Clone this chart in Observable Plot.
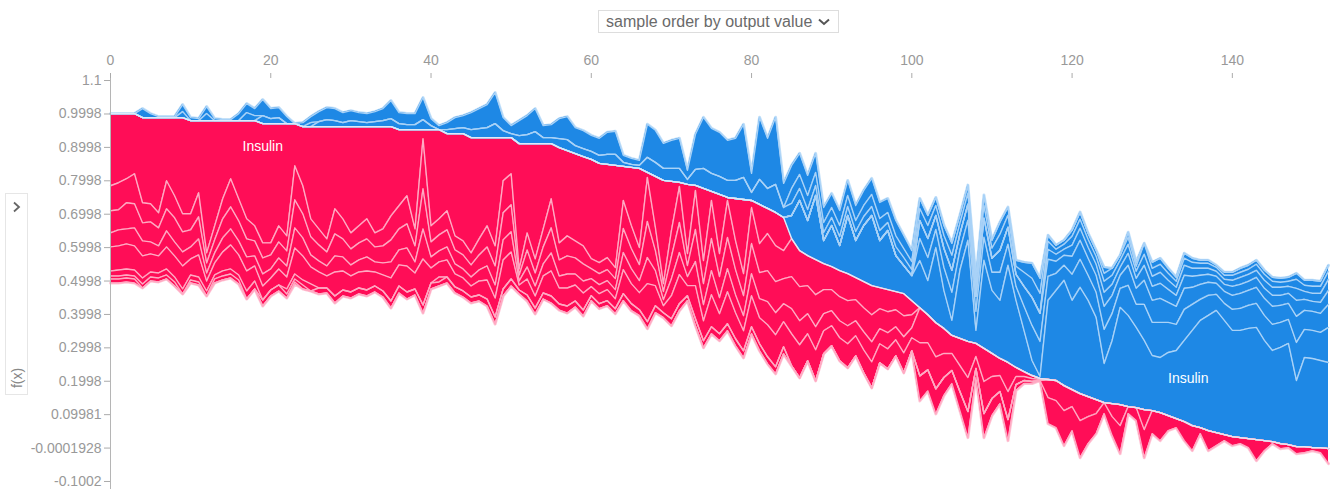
<!DOCTYPE html>
<html>
<head>
<meta charset="utf-8">
<script src="https://cdn.jsdelivr.net/npm/d3@7"></script>
<script src="https://cdn.jsdelivr.net/npm/@observablehq/plot@0.6"></script>
<style>
  body { margin: 0; background: #fff; font-family: "Liberation Sans", Arial, sans-serif; }
  #wrap { position: relative; width: 1333px; height: 493px; overflow: hidden; }
  #dd { position: absolute; left: 598px; top: 10px; width: 241px; height: 23px; border: 1px solid #ddd;
        font-size: 16px; color: #6a6a6a; line-height: 21px; padding-left: 7px; box-sizing: border-box; white-space: nowrap; }
  #dd svg { position: absolute; right: 8px; top: 7px; }
  #fx { position: absolute; left: 5px; top: 193px; width: 23px; height: 202px; border: 1px solid #e6e6e6; box-sizing: border-box; color: #777; }
  #fx .chev { position: absolute; left: 6px; top: 7px; }
  #fx .lab { position: absolute; left: 0px; top: 176px; width: 22px; text-align: center; transform: rotate(-90deg); font-size: 14px; color: #888; }
  #chart { position: absolute; left: 0; top: 0; }
</style>
</head>
<body>
<div id="wrap">
  <div id="chart"></div>
  <div id="dd">sample order by output value<svg width="12" height="8"><polyline points="1,1.5 6,6 11,1.5" stroke="#555" stroke-width="2" fill="none"/></svg></div>
  <div id="fx"><svg class="chev" width="9" height="12"><polyline points="2,1.5 7,6 2,10.5" stroke="#666" stroke-width="1.8" fill="none"/></svg><div class="lab">f(x)</div></div>
</div>
<script>
// ---- data: samples ordered by output value (index 0..152) ----
const featureNames = ["Insulin","Glucose","BMI","Age","DiabetesPedigreeFunction","Pregnancies","BloodPressure","SkinThickness"];

const outputValue = [
1.001,1.001,1.001,1.001,
.989,.989,.989,.989,.989,.989,
.98,.98,.98,.98,.98,.98,.98,.98,.98,
.971,.971,.971,.971,.971,
.962,.962,.962,.962,.962,.962,.962,.962,.962,.962,.962,.962,
.953,.953,.953,.953,.953,.953,
.941,.941,.941,
.929,.929,.929,.929,.929,.929,
.911,.911,.911,.911,.911,
.899,.89,.881,.872,.864,
.852,.849,.846,.843,.84,.837,
.825,.813,.801,
.798,.795,.789,.786,
.777,.768,.759,.75,
.747,.744,.741,
.729,.717,.705,.69,
.627,.591,.576,.564,.552,
.543,.531,.522,
.51,.498,.486,
.48,.474,.468,.462,
.441,.42,.399,.375,
.358,.337,
.328,.319,.313,
.298,.283,.268,
.256,.241,
.229,.217,.208,
.205,.202,
.187,.175,.163,
.154,.145,.136,
.133,.13,.124,.121,
.115,.112,.106,
.097,.088,.079,.067,
.061,.052,.046,.04,.034,
.031,.028,.025,.022,
.019,.013,.01,.004,
.004,.001,.001,-.002];

const insulin = [
.216,.207,.195,.18,.255,.258,.285,.189,.234,.288,
.279,.216,.396,.315,.234,.174,.234,.294,.315,.357,
.357,.306,.336,.126,.177,.276,.306,.336,.246,.276,
.318,.297,.276,.318,.306,.267,.228,.198,.297,.027,
.288,.267,.231,.306,.321,.345,.303,.264,.324,.129,
.108,.375,.267,.345,.255,.165,.285,.255,.261,.267,
.297,.297,.279,.306,.102,.174,.237,.015,.153,.309,
.147,.012,.207,.015,.216,.027,.177,.009,.126,.222,
.021,.117,.075,.099,.099,
-.069,-.15,-.105,-.192,-.069,-.123,-.075,-.174,-.111,-.168,-.21,-.141,-.177,-.108,-.084,-.075,
-.141,-.102,-.225,-.114,-.045,-.204,-.303,-.039,-.264,-.189,-.174,-.291,-.201,-.123,-.045,-.006,
-.237,-.27,-.315,-.267,-.318,-.288,-.246,-.117,-.189,-.291,-.273,-.24,-.207,-.165,-.165,-.189,-.204,-.243,
-.285,-.321,-.345,-.366,-.342,-.318,-.321,-.33,-.336,-.3,-.273,-.288,-.303,-.198,-.267,-.267,-.261,-.258];

const glucose = [
.075,.081,.072,.09,.06,.054,.045,.084,.066,.054,
.048,.072,.03,.042,.06,.084,.066,.06,.045,.045,
.036,.048,.045,.102,.084,.054,.048,.039,.075,.06,
.048,.051,.06,.042,.051,.072,.069,.084,.051,.15,
.048,.048,.057,.042,.042,.036,.048,.063,.06,.096,
.093,.018,.051,.042,.054,.087,.051,.06,.051,.054,
.03,.033,.036,.033,.084,.069,.051,.132,.069,.024,
.078,.108,.036,.117,.069,.114,.069,.111,.087,.066,
.108,.087,.111,.108,.084,
.114,.108,.09,.105,.078,.069,.078,.081,.066,.078,.087,.063,.066,.054,.066,.042,
-.066,-.069,-.054,-.069,-.084,-.06,-.06,-.057,-.069,-.054,-.084,-.063,-.042,-.072,-.105,-.105,
-.072,-.051,-.045,-.078,-.084,-.075,-.075,-.102,-.081,-.057,-.09,-.069,-.108,-.099,-.105,-.09,-.078,-.093,
-.078,-.063,-.06,-.048,-.051,-.063,-.066,-.069,-.072,-.075,-.078,-.075,-.072,-.114,-.084,-.084,-.084,-.105];

const bmi = [
.066,.06,.078,.072,.054,.06,.054,.066,.072,.06,
.051,.066,.03,.039,.057,.066,.06,.054,.045,.048,
.042,.048,.045,.084,.072,.054,.048,.042,.066,.054,
.048,.051,.054,.045,.051,.066,.063,.072,.048,.12,
.045,.048,.051,.042,.042,.036,.045,.057,.057,.081,
.081,.018,.051,.039,.051,.075,.048,.054,.048,.051,
.03,.033,.033,.033,.072,.06,.048,.108,.06,.024,
.066,.09,.033,.096,.063,.096,.063,.093,.075,.06,
.09,.078,.093,.093,.075,
.096,.102,.084,.096,.072,.063,.072,.075,.063,.072,.081,.06,.063,.051,.063,.039,
-.054,-.057,-.042,-.057,-.066,-.048,-.048,-.045,-.057,-.042,-.066,-.051,-.036,-.06,-.084,-.084,
-.051,-.036,-.03,-.054,-.057,-.051,-.051,-.069,-.054,-.039,-.06,-.048,-.072,-.066,-.072,-.06,-.054,-.063,
-.051,-.045,-.039,-.033,-.036,-.042,-.045,-.045,-.048,-.051,-.054,-.051,-.048,-.078,-.057,-.057,-.057,-.069];

const age = [
.042,.048,.045,.054,.045,.036,.03,.048,.042,.042,
.036,.048,.024,.03,.042,.048,.042,.042,.03,.036,
.027,.033,.033,.06,.054,.036,.033,.03,.048,.042,
.033,.036,.042,.03,.036,.048,.045,.054,.033,.09,
.033,.033,.039,.03,.027,.027,.033,.042,.039,.06,
.06,.012,.036,.03,.036,.054,.036,.042,.033,.036,
.024,.027,.027,.027,.051,.045,.036,.078,.045,.018,
.051,.066,.027,.072,.048,.072,.048,.069,.054,.045,
.066,.057,.069,.066,.054,
.075,.072,.06,.069,.051,.045,.051,.054,.045,.054,.06,.045,.048,.039,.048,.03,
.105,.084,.102,.075,.054,.081,.108,.039,.099,.069,.051,.087,.027,.015,.009,.003,
-.03,-.021,-.018,-.033,-.036,-.033,-.033,-.042,-.033,-.024,-.036,-.03,-.045,-.042,-.045,-.039,-.033,-.039,
-.033,-.027,-.024,-.021,-.021,-.027,-.027,-.027,-.03,-.03,-.033,-.03,-.03,-.048,-.033,-.03,-.033,-.042];

const diabetesPedigree = [
.072,.072,.075,.072,.066,.054,.051,.066,.063,.069,
.048,.066,.03,.036,.057,.072,.06,.06,.045,.042,
.036,.048,.036,.078,.072,.051,.048,.036,.072,.057,
.048,.048,.057,.042,.048,.069,.063,.078,.048,.138,
.045,.045,.051,.039,.039,.033,.042,.057,.057,.087,
.081,.015,.048,.036,.051,.075,.048,.054,.048,.051,
.027,.03,.033,.03,.072,.06,.051,.114,.06,.021,
.069,.087,.03,.099,.06,.096,.06,.096,.078,.06,
.093,.078,.096,.096,.075,
.096,.099,.081,.093,.069,.06,.069,.072,.06,.069,.078,.057,.06,.048,.06,.039,
.099,.081,.096,.072,.051,.078,.102,.036,.096,.066,.048,.084,.024,.012,.009,.003,
-.024,-.015,-.015,-.027,-.027,-.024,-.024,-.033,-.027,-.021,-.027,-.021,-.033,-.03,-.033,-.027,-.024,-.03,
-.024,-.021,-.018,-.015,-.015,-.018,-.021,-.021,-.021,-.024,-.024,-.024,-.021,-.036,-.024,-.024,-.027,-.033];

const pregnancies = [
.015,.018,.018,.018,.018,.015,.015,.018,.015,.015,
.015,.015,.015,.012,.015,.015,.015,.024,.024,-.024,
-.015,-.018,.015,.015,.015,.021,-.015,-.021,-.018,-.012,
-.018,-.015,-.012,-.015,-.018,-.024,-.018,-.015,-.015,-.03,
-.012,.015,-.012,-.015,-.018,-.024,-.027,-.03,-.042,-.021,
-.012,-.024,-.027,-.036,-.018,-.018,-.027,-.033,-.024,-.024,
-.024,-.024,-.03,-.033,-.012,-.009,-.009,-.045,-.042,-.036,
-.039,-.042,-.015,-.048,-.06,-.054,-.054,-.051,-.054,-.066,
-.024,-.075,-.06,-.084,-.03,
-.036,-.036,-.033,-.03,-.024,-.024,-.027,-.027,-.027,-.027,-.027,-.03,-.024,-.027,-.024,-.018,
-.036,-.039,-.03,-.039,-.045,-.033,-.033,-.033,-.039,-.03,-.048,-.036,-.024,-.042,-.057,-.06,
-.018,-.012,-.012,-.018,-.021,-.018,-.018,-.024,-.021,-.015,-.021,-.015,-.033,-.024,-.024,-.021,-.018,-.021,
-.018,-.015,-.015,-.012,-.012,-.015,-.015,-.015,-.018,-.018,-.018,-.015,-.015,-.027,-.018,-.021,-.021,-.024];

const bloodPressure = [
.009,.009,.009,.009,.012,.012,.012,.012,.012,-.018,
.009,.009,-.021,.012,.012,.012,.012,-.024,-.015,.018,
.018,.018,.012,.009,.012,-.012,.018,.015,.021,.018,
.018,.018,.018,.018,.018,.021,.021,.021,.018,.024,
.018,.012,.018,.018,.018,.018,.018,.021,.021,.021,
.021,.012,.018,.018,.018,.021,.018,.021,.018,.018,
.015,.015,.015,.015,.021,.021,.018,.021,.021,.015,
.021,.021,.015,.021,.021,.021,.021,.021,.021,.021,
.021,.021,.021,.021,.021,
-.045,-.042,-.042,-.039,-.03,-.03,-.033,-.033,-.033,-.033,-.036,-.036,-.03,-.033,-.027,-.024,
-.03,-.03,-.024,-.03,-.036,-.024,-.024,-.024,-.03,-.024,-.036,-.024,-.018,-.03,-.045,-.045,
.054,.06,.075,.051,.081,.06,.042,-.018,.039,.063,-.015,-.012,.06,-.018,-.018,-.015,-.012,-.015,
-.012,-.009,-.009,-.006,-.009,-.009,-.012,-.012,-.012,-.012,-.012,-.012,-.012,-.018,-.015,-.018,-.015,-.018];

const skinThickness = [
.012,.012,.012,.012,-.027,-.012,-.003,-.003,-.003,-.021,
-.009,-.006,-.021,-.006,-.003,-.003,-.021,-.027,-.021,-.048,
-.03,-.03,-.021,.006,-.012,-.018,-.03,-.036,-.036,-.03,
-.03,-.027,-.027,-.03,-.036,-.054,-.033,-.033,-.033,-.066,
-.021,-.012,-.021,-.033,-.036,-.051,-.06,-.069,-.093,-.039,
-.024,-.045,-.057,-.069,-.036,-.039,-.06,-.069,-.054,-.054,
-.048,-.051,-.066,-.069,-.021,-.018,-.015,-.099,-.096,-.075,
-.084,-.09,-.027,-.105,-.153,-.135,-.132,-.12,-.126,-.159,
-.057,-.186,-.15,-.201,-.072,
-.069,-.063,-.06,-.057,-.045,-.042,-.045,-.045,-.045,-.045,-.048,-.048,-.042,-.045,-.039,-.033,
.075,.063,.075,.054,.039,.057,.078,.027,.072,.051,.036,.063,.018,.009,.006,0,
.078,.081,.105,.072,.111,.081,.06,.033,.057,.084,.021,.039,.084,.069,.084,.045,.027,.057,
.075,.018,.06,.039,.018,.027,.018,.027,.063,.03,.006,.015,.009,.021,.018,.009,.015,.045];

const xTicks = [0, 20, 40, 60, 80, 100, 120, 140];
const yTickValues = [1.1, 0.9998, 0.8998, 0.7998, 0.6998, 0.5998, 0.4998, 0.3998, 0.2998, 0.1998, 0.09981, -0.0001928, -0.1002];
const yTickLabels = ["1.1","0.9998","0.8998","0.7998","0.6998","0.5998","0.4998","0.3998","0.2998","0.1998","0.09981","-0.0001928","-0.1002"];

// feature labels shown on the largest band
const labelNames = ["Insulin", "Insulin"];
const labelSamples = [19, 134.5];
const labelValues = [0.902, 0.208];

// ---- build stacked bands ----
const shapSeries = [insulin, glucose, bmi, age, diabetesPedigree, pregnancies, bloodPressure, skinThickness];
shapSeries.forEach((s, k) => { if (s.length !== outputValue.length) console.log("length mismatch", featureNames[k], s.length); });

const redBands = [], blueBands = [], samples = [];
const lastFeature = featureNames[featureNames.length - 1];
outputValue.forEach((fx, i) => {
  samples.push({i, fx});
  let lo = fx, hi = fx;
  featureNames.forEach((name, k) => {
    const v = shapSeries[k][i] ?? 0;
    const p = Math.max(v, 0), m = Math.max(-v, 0);
    redBands.push({i, feature: name, y1: lo - p, y2: lo});
    lo -= p;
    blueBands.push({i, feature: name, y1: hi, y2: hi + m});
    hi += m;
  });
});
const redEdge = redBands.filter(d => d.feature === lastFeature);
const blueEdge = blueBands.filter(d => d.feature === lastFeature);

const labels = labelNames.map((t, k) => ({t, x: labelSamples[k], y: labelValues[k]}));
const tickLabel = new Map(yTickValues.map((v, k) => [v, yTickLabels[k]]));

const RED = "#ff0d57", BLUE = "#1e88e5";

const chart = Plot.plot({
  width: 1333,
  height: 493,
  marginLeft: 110,
  marginRight: 5,
  marginTop: 77,
  marginBottom: 4,
  style: {fontFamily: "'Liberation Sans', Arial, sans-serif", fontSize: "13px", color: "#999", background: "transparent"},
  x: {domain: [0, 152], range: [110, 1328]},
  y: {domain: [-0.1242, 1.121], range: [489, 73]},
  marks: [
    Plot.lineY(redEdge, {x: "i", y: "y1", stroke: "#ffc9d8", strokeWidth: 3}),
    Plot.lineY(blueEdge, {x: "i", y: "y2", stroke: "#c4e1f9", strokeWidth: 3}),
    Plot.areaY(redBands, {x: "i", y1: "y1", y2: "y2", z: "feature", fill: RED, curve: "linear"}),
    Plot.areaY(blueBands, {x: "i", y1: "y1", y2: "y2", z: "feature", fill: BLUE, curve: "linear"}),
    Plot.lineY(redBands, {x: "i", y: "y1", z: "feature", stroke: "#ffaac3", strokeWidth: 1.4}),
    Plot.lineY(blueBands, {x: "i", y: "y2", z: "feature", stroke: "#a9d2f7", strokeWidth: 1.4}),
    Plot.lineY(samples, {x: "i", y: "fx", stroke: "#dfe9f7", strokeWidth: 1.4}),
    Plot.text(labels, {x: "x", y: "y", text: "t", fill: "white", fontSize: 14}),
    Plot.ruleX([0], {stroke: "#b5b5b5"}),
    Plot.axisY({ticks: yTickValues, tickFormat: d => tickLabel.get(d), tickSize: 6, tickPadding: 3, stroke: "#aaa", fill: "#999", fontSize: 14}),
    Plot.axisX({anchor: "top", ticks: xTicks, tickSize: 5, tickPadding: 8, stroke: "#aaa", fill: "#999", fontSize: 14})
  ]
});
document.getElementById("chart").appendChild(chart);
</script>
</body>
</html>
